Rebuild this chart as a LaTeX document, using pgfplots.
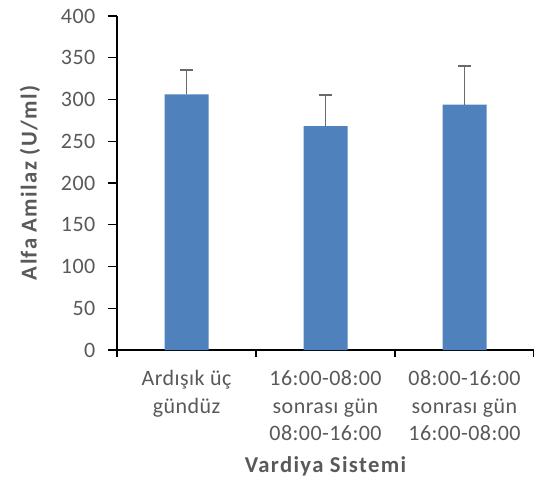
\documentclass[border=0pt]{standalone}
\usepackage{fontspec}
\setmainfont{Carlito}
\newfontfamily\tickfont[LetterSpace=2]{Carlito}
\newfontfamily\labfont[LetterSpace=6]{Carlito}
\usepackage{pgfplots}
\pgfplotsset{compat=1.18}
\definecolor{barblue}{HTML}{4F81BD}
\definecolor{txtgray}{HTML}{595959}
\definecolor{errgray}{HTML}{6A6A6A}
\begin{document}
\begin{tikzpicture}[x=1pt,y=1pt]
\useasboundingbox (-87.75,-99) rectangle (312.75,262.5);
\begin{axis}[
  at={(0,0)}, anchor=south west, scale only axis,
  width=312.75pt, height=250.5pt,
  xmin=-0.5, xmax=2.5, ymin=0, ymax=400,
  ytick={0,50,...,400},
  xtick={0,1,2},
  xticklabels={{Ardışık üç\\gündüz},{16:00-08:00\\sonrası gün\\08:00-16:00},{08:00-16:00\\sonrası gün\\16:00-08:00}},
  minor xtick={-0.5,0.5,1.5,2.5},
  axis x line*=bottom, axis y line*=left,
  axis line style={black, line width=0.8pt},
  tick align=outside,
  major tick length=6.75pt,
  minor tick length=5.25pt,
  every tick/.style={black, line width=0.8pt},
  major x tick style={draw=none},
  /pgf/number format/assume math mode=true,
  tick label style={font=\tickfont\fontsize{16.5}{20.7}\selectfont, text=txtgray},
  yticklabel style={xshift=-6pt},
  xticklabel style={align=center, anchor=north, yshift=-5pt},
  ylabel={Alfa Amilaz (U/ml)},
  xlabel={Vardiya Sistemi},
  label style={font=\labfont\fontsize{17}{20}\selectfont\bfseries, text=txtgray},
  ylabel style={at={(axis description cs:-0.2086,0.5)}, anchor=center},
  xlabel style={at={(axis description cs:0.5,0)}, anchor=center, yshift=-87pt},
  ybar, bar width=33pt,
  clip=false,
]
\addplot[fill=barblue, draw=none,
  error bars/.cd, y dir=plus, y explicit,
  error bar style={errgray, line width=1.4pt},
  error mark options={errgray, line width=1.4pt, mark size=4.9pt, rotate=90}]
  coordinates {(0,306) +- (0,29) (1,268) +- (0,37) (2,294) +- (0,46)};
\end{axis}
\end{tikzpicture}
\end{document}
